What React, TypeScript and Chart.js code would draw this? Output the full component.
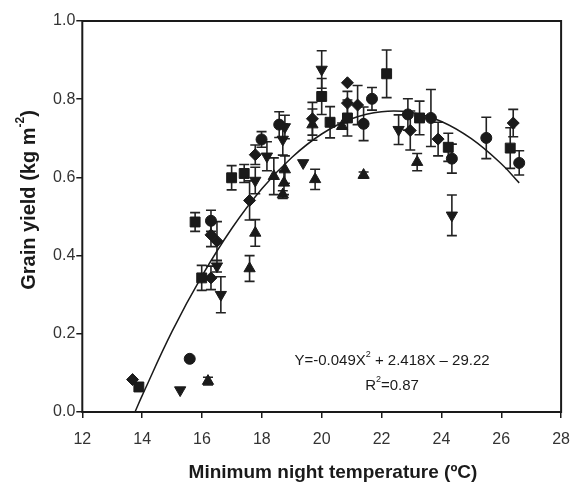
import React, { useEffect, useRef } from "react";
import { Chart, registerables } from "chart.js";

Chart.register(...registerables);

// ---- Data ----
const xTicks = [12, 14, 16, 18, 20, 22, 24, 26, 28];
const yTicks = [0, 0.2, 0.4, 0.6, 0.8, 1.0];

// Squares
const sqX = [13.89, 15.77, 15.99, 16.99, 17.41, 20.0, 20.28, 20.86, 22.17, 23.27, 24.23, 26.3];
const sqY = [0.064, 0.486, 0.343, 0.599, 0.61, 0.807, 0.741, 0.752, 0.865, 0.752, 0.677, 0.675];
const sqE = [0, 0.024, 0.032, 0.031, 0.023, 0.046, 0.04, 0.046, 0.061, 0.043, 0.036, 0.052];

// Circles
const ciX = [15.59, 16.3, 17.99, 18.58, 21.4, 21.68, 22.88, 23.65, 24.35, 25.5, 26.6];
const ciY = [0.136, 0.489, 0.697, 0.735, 0.737, 0.801, 0.761, 0.752, 0.648, 0.701, 0.637];
const ciE = [0, 0.027, 0.02, 0.033, 0.043, 0.029, 0.04, 0.073, 0.037, 0.053, 0.031];

// Diamonds
const diX = [13.68, 16.3, 16.5, 16.3, 17.59, 17.78, 19.69, 20.86, 20.86, 21.2, 22.96, 23.89, 26.4];
const diY = [0.083, 0.453, 0.437, 0.343, 0.541, 0.658, 0.75, 0.842, 0.79, 0.785, 0.72, 0.698, 0.739];
const diE = [0, 0.03, 0.05, 0.03, 0.05, 0.025, 0.042, 0, 0.03, 0.05, 0.05, 0.043, 0.035];

// Triangles down
const tdX = [15.27, 16.5, 16.63, 17.78, 18.17, 18.7, 18.77, 19.38, 20.0, 22.57, 24.35];
const tdY = [0.056, 0.373, 0.3, 0.592, 0.654, 0.697, 0.729, 0.637, 0.876, 0.722, 0.503];
const tdE = [0, 0.015, 0.046, 0.034, 0.037, 0.04, 0.03, 0, 0.048, 0.038, 0.052];

// Triangles up
const tuX = [16.2, 17.59, 17.78, 18.4, 18.77, 18.74, 18.7, 19.69, 19.78, 20.68, 21.4, 23.19];
const tuY = [0.079, 0.367, 0.458, 0.603, 0.62, 0.586, 0.556, 0.735, 0.595, 0.731, 0.606, 0.639];
const tuE = [0.01, 0.033, 0.034, 0.047, 0.035, 0.03, 0.01, 0.04, 0.026, 0.008, 0.008, 0.022];

// Fitted curve
const curveX = [13.76, 14, 15, 16, 17, 18, 19, 20, 21, 22, 23, 24, 25, 26, 26.6];
const curveY = [0, 0.042, 0.206, 0.348, 0.47, 0.571, 0.651, 0.711, 0.75, 0.768, 0.766, 0.743, 0.699, 0.635, 0.586];

const xTitle = "Minimum night temperature (\u00BAC)";
const FONT = "'Liberation Sans', Arial, Helvetica, sans-serif";
const INK = "#1a1a1a";

function pts(xs: number[], ys: number[]) {
  return xs.map((x, i) => ({ x, y: ys[i] }));
}

type Run = { t: string; sup?: boolean };

function drawRuns(ctx: CanvasRenderingContext2D, runs: Run[], cx: number, cy: number, size: number, weight: string) {
  const supSize = Math.round(size * 0.62);
  const widths = runs.map((r) => {
    ctx.font = `${weight} ${r.sup ? supSize : size}px ${FONT}`;
    return ctx.measureText(r.t).width;
  });
  const total = widths.reduce((a, b) => a + b, 0);
  let x = cx - total / 2;
  ctx.textBaseline = "middle";
  ctx.textAlign = "left";
  runs.forEach((r, i) => {
    ctx.font = `${weight} ${r.sup ? supSize : size}px ${FONT}`;
    ctx.fillText(r.t, x, r.sup ? cy - size * 0.42 : cy);
    x += widths[i];
  });
}

const errorBarPlugin = {
  id: "errorBars",
  beforeDatasetsDraw(chart: any) {
    const ctx = chart.ctx as CanvasRenderingContext2D;
    const xs = chart.scales.x;
    const ys = chart.scales.y;
    ctx.save();
    ctx.strokeStyle = "#222";
    ctx.lineWidth = 1.6;
    chart.data.datasets.forEach((ds: any) => {
      if (!ds.err) return;
      ds.data.forEach((p: any, i: number) => {
        const e = ds.err[i];
        if (!e) return;
        const px = xs.getPixelForValue(p.x);
        const y1 = ys.getPixelForValue(p.y + e);
        const y2 = ys.getPixelForValue(p.y - e);
        const cap = 5;
        ctx.beginPath();
        ctx.moveTo(px, y1);
        ctx.lineTo(px, y2);
        ctx.moveTo(px - cap, y1);
        ctx.lineTo(px + cap, y1);
        ctx.moveTo(px - cap, y2);
        ctx.lineTo(px + cap, y2);
        ctx.stroke();
      });
    });
    ctx.restore();
  },
};

const decorPlugin = {
  id: "decor",
  afterDraw(chart: any) {
    const ctx = chart.ctx as CanvasRenderingContext2D;
    const { left, right, top, bottom } = chart.chartArea;
    ctx.save();
    // frame
    ctx.strokeStyle = INK;
    ctx.lineWidth = 2;
    ctx.strokeRect(left, top, right - left, bottom - top);

    ctx.fillStyle = INK;
    // equation text
    const xs = chart.scales.x;
    const ys = chart.scales.y;
    const ex = xs.getPixelForValue(22.35);
    drawRuns(
      ctx,
      [{ t: "Y=-0.049X" }, { t: "2", sup: true }, { t: " + 2.418X \u2013 29.22" }],
      ex,
      ys.getPixelForValue(0.13),
      15,
      "normal"
    );
    drawRuns(ctx, [{ t: "R" }, { t: "2", sup: true }, { t: "=0.87" }], ex, ys.getPixelForValue(0.066), 15, "normal");

    // x axis title
    drawRuns(ctx, [{ t: xTitle }], 333, 473, 19, "bold");

    // y axis title (rotated)
    ctx.save();
    ctx.translate(29, 200);
    ctx.rotate(-Math.PI / 2);
    drawRuns(ctx, [{ t: "Grain yield (kg m" }, { t: "-2", sup: true }, { t: ")" }], 0, 0, 20, "bold");
    ctx.restore();
    ctx.restore();
  },
};

export default function App() {
  const ref = useRef<HTMLCanvasElement | null>(null);

  useEffect(() => {
    if (!ref.current) return;
    const common = {
      backgroundColor: INK,
      borderColor: INK,
      pointBorderWidth: 1,
      showLine: false,
      order: 0,
    };
    const chart = new Chart(ref.current, {
      type: "scatter",
      data: {
        datasets: [
          {
            type: "line",
            data: pts(curveX, curveY),
            borderColor: INK,
            borderWidth: 1.5,
            pointRadius: 0,
            tension: 0.4,
            fill: false,
            order: 10,
          } as any,
          { ...common, data: pts(sqX, sqY), err: sqE, pointStyle: "rect", pointRadius: 7 } as any,
          { ...common, data: pts(ciX, ciY), err: ciE, pointStyle: "circle", pointRadius: 5.5 } as any,
          { ...common, data: pts(diX, diY), err: diE, pointStyle: "rectRot", pointRadius: 6 } as any,
          { ...common, data: pts(tdX, tdY), err: tdE, pointStyle: "triangle", pointRotation: 180, pointRadius: 6.5 } as any,
          { ...common, data: pts(tuX, tuY), err: tuE, pointStyle: "triangle", pointRadius: 6.5 } as any,
        ],
      },
      options: {
        animation: false,
        responsive: false,
        devicePixelRatio: 1,
        layout: { padding: { left: 0, top: 21, right: 19.5, bottom: 0 } },
        plugins: { legend: { display: false }, tooltip: { enabled: false } },
        scales: {
          x: {
            type: "linear",
            min: 12,
            max: 28,
            afterFit: (s: any) => {
              s.height = 74;
            },
            afterBuildTicks: (s: any) => {
              s.ticks = xTicks.map((v) => ({ value: v }));
            },
            border: { display: false },
            grid: { drawOnChartArea: false, drawTicks: true, tickLength: 6, color: INK, lineWidth: 1.5 },
            ticks: { font: { family: FONT, size: 16 }, color: "#333", padding: 12, maxRotation: 0 },
            title: { display: false },
          },
          y: {
            type: "linear",
            min: 0,
            max: 1,
            afterFit: (s: any) => {
              s.width = 82.3;
            },
            afterBuildTicks: (s: any) => {
              s.ticks = yTicks.map((v) => ({ value: v }));
            },
            border: { display: false },
            grid: { drawOnChartArea: false, drawTicks: true, tickLength: 6, color: INK, lineWidth: 1.5 },
            ticks: {
              font: { family: FONT, size: 16 },
              color: "#333",
              padding: 1,
              callback: (v: any) => Number(v).toFixed(1),
            },
            title: { display: false },
          },
        },
      },
      plugins: [errorBarPlugin, decorPlugin],
    } as any);
    return () => chart.destroy();
  }, []);

  return (
    <div style={{ position: "absolute", left: 0, top: 0, width: 582, height: 486, background: "#fff" }}>
      <canvas ref={ref} width={582} height={486} style={{ width: 582, height: 486, display: "block" }} />
    </div>
  );
}
